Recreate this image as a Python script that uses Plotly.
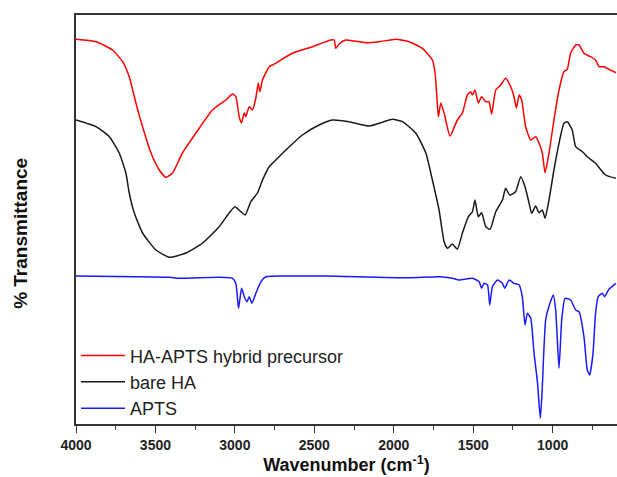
import plotly.graph_objects as go

# Wavenumber (cm^-1) and relative transmittance (arbitrary, offset)
red_wn = [4000, 3874, 3770, 3707, 3665, 3623, 3581, 3528, 3476, 3434, 3392, 3330, 3245, 3141, 3057, 3015, 2994,
          2973, 2958, 2941, 2931, 2910, 2889, 2868, 2853, 2843, 2826, 2784, 2763, 2638, 2512, 2396, 2375, 2365,
          2344, 2302, 2176, 2092, 1987, 1904, 1820, 1757, 1740, 1729, 1719, 1704, 1683, 1646, 1600, 1568, 1537,
          1516, 1505, 1489, 1468, 1447, 1421, 1401, 1384, 1358, 1327, 1296, 1264, 1243, 1228, 1211, 1195, 1170,
          1138, 1107, 1086, 1065, 1048, 1023, 992, 960, 929, 908, 887, 855, 834, 803, 761, 730, 709, 677, 646, 602]
red_t = [384.7, 382.3, 374, 362.3, 347.3, 321, 297.3, 271, 254, 246.7, 251, 271, 291, 314, 324, 330, 327.3,
         307.3, 301.3, 311, 307.3, 317.3, 314, 326, 341, 332.3, 344, 357.3, 359, 370.7, 377.3, 384, 384, 375.7,
         380, 384, 381.3, 382.3, 384.7, 382.3, 375.7, 364, 351, 327.3, 307.3, 321, 311, 288, 304, 311, 329,
         332.3, 329, 334, 321, 327.3, 322.3, 322.3, 310, 334, 339, 345.7, 337.3, 327.3, 316, 329, 324, 297.3,
         284, 287.3, 281, 271, 251.3, 271, 304, 334, 352.3, 354.7, 370.7, 379, 379, 370.7, 367.3, 364, 357.3,
         357.3, 354.7, 351.3]

black_wn = [4000, 3874, 3790, 3728, 3686, 3665, 3633, 3581, 3497, 3413, 3308, 3203, 3099, 3036, 3000, 2962, 2935,
            2900, 2858, 2826, 2784, 2763, 2679, 2575, 2470, 2386, 2281, 2155, 2008, 1945, 1861, 1798, 1757, 1715,
            1683, 1662, 1631, 1600, 1568, 1530, 1505, 1489, 1468, 1447, 1421, 1394, 1358, 1316, 1296, 1270, 1233,
            1201, 1174, 1148, 1132, 1107, 1086, 1065, 1048, 1023, 992, 960, 929, 908, 877, 855, 813, 782, 730,
            667, 602]
black_t = [304, 297.3, 287.3, 271, 251, 231, 211, 191, 174, 166.7, 171, 181, 197.3, 211, 217.3, 212.3, 209,
           222.3, 231, 244, 257.3, 260.7, 274, 289, 299, 304, 302.3, 298, 304.7, 302.3, 290.7, 271, 244, 214,
           182.3, 175.7, 180, 174.7, 191, 207.3, 212.3, 224, 207.3, 211.3, 197.3, 194.7, 212.3, 224, 235.7, 229,
           232.3, 247.3, 237.3, 220.7, 210.7, 218, 211.3, 214, 205.7, 224, 254, 280.7, 300.7, 302.3, 294, 277.3,
           272.3, 267.3, 260.7, 249, 245.7]

blue_wn = [4000, 3623, 3413, 3350, 3099, 3015, 2994, 2977, 2958, 2941, 2924, 2910, 2893, 2868, 2836, 2805, 2638,
           2427, 1904, 1715, 1631, 1589, 1505, 1463, 1447, 1432, 1410, 1396, 1379, 1348, 1316, 1302, 1274, 1243,
           1211, 1191, 1174, 1159, 1138, 1117, 1102, 1095, 1086, 1077, 1065, 1044, 1017, 996, 981, 960, 943, 922,
           887, 855, 834, 803, 782, 767, 746, 730, 713, 688, 673, 646, 602]
blue_t = [148, 147.3, 146.7, 145.7, 146.7, 145.7, 140.7, 115.7, 135.7, 127.3, 122.3, 127.3, 120.7, 130.7, 142.3,
          147.3, 148, 148, 146.3, 147.3, 145.7, 144, 145.7, 142.3, 135.7, 140.7, 139, 119, 137.3, 144, 140.7,
          135.7, 144, 140.7, 139, 127.3, 99, 110.7, 105.7, 70.7, 50.7, 40.7, 21, 5.7, 37.3, 104, 120.7, 129, 114,
          55.7, 104, 125.7, 124, 114, 112.3, 87.3, 54, 49, 70.7, 110.7, 127.3, 130.7, 127.3, 134.7, 140.7]

series_names = ["HA-APTS hybrid precursor", "bare HA", "APTS"]
series_colors = ["#ff0000", "#1a1a1a", "#1a1aff"]
x_ticks = [4000, 3500, 3000, 2500, 2000, 1500, 1000]

FONT = "Arial, Liberation Sans, sans-serif"

fig = go.Figure()
for i, (wn, t) in enumerate([(red_wn, red_t), (black_wn, black_t), (blue_wn, blue_t)]):
    fig.add_trace(go.Scatter(
        x=wn, y=t, mode="lines", name=series_names[i], legendgroup=str(i),
        line=dict(color=series_colors[i], width=1.5, shape="spline", smoothing=0.5),
    ))

fig.update_layout(
    width=617, height=477,
    margin=dict(l=76, r=0, t=15, b=53),
    plot_bgcolor="white", paper_bgcolor="white",
    font=dict(family=FONT, color="#222"),
    showlegend=True,
    legend=dict(x=0.0, y=-0.008, xanchor="left", yanchor="bottom",
                font=dict(size=18, family=FONT, color="#222"),
                bgcolor="rgba(0,0,0,0)", tracegroupgap=0, itemwidth=44),
    xaxis=dict(
        range=[4000, 595], showgrid=False, zeroline=False,
        showline=True, linecolor="#333", linewidth=1.5, mirror=True,
        ticks="outside", ticklen=7, tickwidth=1.2, tickcolor="#333",
        tickvals=x_ticks, ticktext=[f"<b>{v}</b>" for v in x_ticks],
        tickfont=dict(size=14, family=FONT, color="#222"),
        minor=dict(dtick=250, tick0=0, ticks="outside", ticklen=4, tickwidth=1.2, tickcolor="#333"),
        title=dict(text="<b>Wavenumber (cm<sup>-1</sup>)</b>", font=dict(size=18, family=FONT, color="#111"),
                   standoff=2),
    ),
    yaxis=dict(
        range=[0, 409], showgrid=False, zeroline=False, showticklabels=False, ticks="",
        showline=True, linecolor="#333", linewidth=1.5,
    ),
    annotations=[dict(
        text="<b>% Transmittance</b>", textangle=-90, xref="paper", yref="paper",
        x=-0.125, y=0.467, showarrow=False, font=dict(size=19, family=FONT, color="#111"),
    )],
)

fig.write_html("out.html")
